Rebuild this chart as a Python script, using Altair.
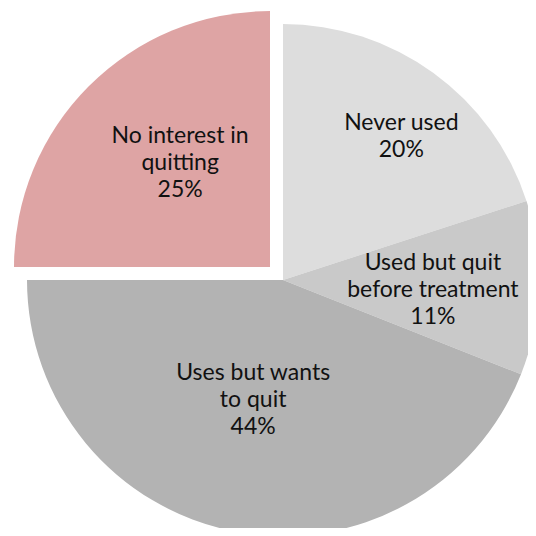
import math
import altair as alt
import pandas as pd

categories = ["Never used", "Used but quit before treatment", "Uses but wants to quit", "No interest in quitting"]
values = [20, 11, 44, 25]
label_lines = [
    ["Never used"],
    ["Used but quit", "before treatment"],
    ["Uses but wants", "to quit"],
    ["No interest in", "quitting"],
]
colors = ["#dddddd", "#c9c9c9", "#b3b3b3", "#dea4a4"]

df = pd.DataFrame({"category": categories, "value": values})
df["end"] = df["value"].cumsum()
df["start"] = df["end"] - df["value"]
df["mid"] = (df["start"] + df["end"]) / 2
df["label"] = ["\n".join(l + [f"{v}%"]) for l, v in zip(label_lines, values)]

theta_scale = alt.Scale(domain=[0, 100], range=[0, 2 * math.pi])
color_enc = alt.Color("category:N", scale=alt.Scale(domain=categories, range=colors), legend=None)

CX, CY = 275, 272          # main pie centre (chart coords)
EX, EY = 262, 259          # exploded slice centre
R = 256
LH = 27

base = alt.Chart(df)

main_arcs = base.transform_filter(alt.datum.category != "No interest in quitting").mark_arc(
    x=CX, y=CY, outerRadius=R, stroke=None
).encode(
    theta=alt.Theta("start:Q", scale=theta_scale),
    theta2="end:Q",
    color=color_enc,
)

pink_arc = base.transform_filter(alt.datum.category == "No interest in quitting").mark_arc(
    x=EX, y=EY, outerRadius=R, stroke=None
).encode(
    theta=alt.Theta("start:Q", scale=theta_scale),
    theta2="end:Q",
    color=color_enc,
)

# label placement per slice: (centre x, centre y, radius, dx, dy)
label_pos = {
    "Never used": (CX, CY, 186, 9, 7),
    "Used but quit before treatment": (CX, CY, 150, 0, 5),
    "Uses but wants to quit": (CX, CY, 122, -7, 0),
    "No interest in quitting": (EX, EY, 137, 7, -7),
}

text_layers = []
for (cat, (x, y, r, dx, dy)), lines in zip(label_pos.items(), label_lines):
    n = len(lines) + 1
    text_layers.append(
        base.transform_filter(alt.datum.category == cat).mark_text(
            x=x, y=y, radius=r, dx=dx, dy=dy - (n - 1) * LH / 2,
            font="Lato", fontSize=23, color="#111111",
            lineBreak="\n", lineHeight=LH, align="center", baseline="middle",
        ).encode(
            theta=alt.Theta("mid:Q", scale=theta_scale),
            text="label:N",
        )
    )

chart = alt.layer(main_arcs, pink_arc, *text_layers).properties(
    width=520, height=520, padding=0, autosize="none"
).configure_view(stroke=None)

chart.save("out.html", embed_options={"renderer": "svg", "actions": False})
